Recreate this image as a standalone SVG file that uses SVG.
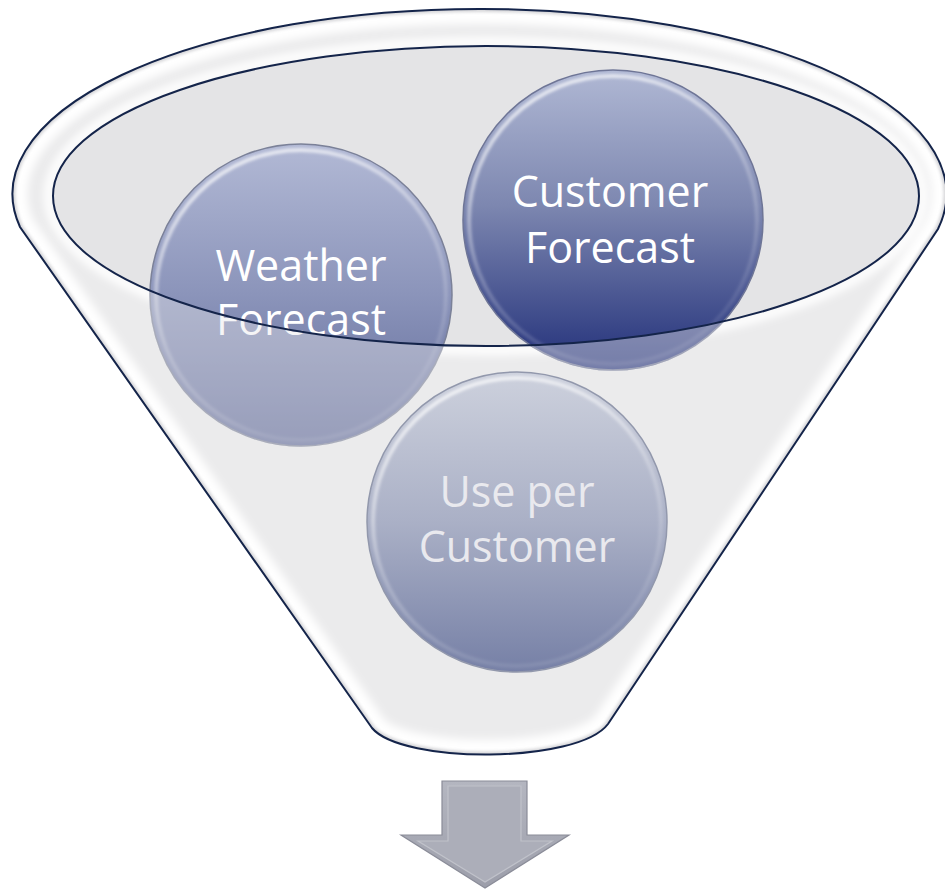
<svg xmlns="http://www.w3.org/2000/svg" width="945" height="893" viewBox="0 0 945 893">
<style>
.lbl{font-family:"Open Sans","Noto Sans","Liberation Sans",sans-serif;font-size:43px;text-anchor:middle;}
.outline{fill:none;stroke:#14244a;stroke-width:2;}
</style>
<defs>
  <path id="funnelShape" d="M 20 227 A 467 185 0 1 1 938 229 L 608 724 C 578 764 402 764 372 728 Z"/>
  <clipPath id="funnelClip"><use href="#funnelShape"/></clipPath>
  <clipPath id="outsideInner"><path clip-rule="evenodd" d="M0 0 H945 V893 H0 Z M 53 196 A 433 150 0 1 0 919 196 A 433 150 0 1 0 53 196 Z"/></clipPath>
  <filter id="blur4" x="-10%" y="-10%" width="120%" height="120%"><feGaussianBlur stdDeviation="4"/></filter>
  <filter id="blur2" x="-10%" y="-10%" width="120%" height="120%"><feGaussianBlur stdDeviation="1.5"/></filter>
  <linearGradient id="gWeather" x1="0" y1="0" x2="0" y2="1">
    <stop offset="0" stop-color="#b2b9d5"/><stop offset="0.5" stop-color="#8b94ba"/><stop offset="1" stop-color="#5e6898"/>
  </linearGradient>
  <linearGradient id="gCust" x1="0" y1="0" x2="0" y2="1">
    <stop offset="0" stop-color="#b0b8d4"/><stop offset="0.45" stop-color="#7d87b0"/><stop offset="1" stop-color="#22307a"/>
  </linearGradient>
  <linearGradient id="gUse" x1="0" y1="0" x2="0" y2="1">
    <stop offset="0" stop-color="#cdd1dd"/><stop offset="0.5" stop-color="#aab0c6"/><stop offset="1" stop-color="#7680a6"/>
  </linearGradient>
  <linearGradient id="gRing" x1="0" y1="0" x2="0.4" y2="1">
    <stop offset="0" stop-color="#ffffff" stop-opacity="0.85"/><stop offset="0.6" stop-color="#ffffff" stop-opacity="0.25"/><stop offset="1" stop-color="#ffffff" stop-opacity="0.1"/>
  </linearGradient>
  <linearGradient id="gArrow" x1="0" y1="0" x2="0" y2="1">
    <stop offset="0" stop-color="#b4b6c0"/><stop offset="1" stop-color="#9c9eaa"/>
  </linearGradient>
</defs>
<rect width="945" height="893" fill="#ffffff"/>

<g id="funnel">
  <use href="#funnelShape" fill="#ebebec"/>
  <g clip-path="url(#funnelClip)">
    <use href="#funnelShape" fill="none" stroke="#ffffff" stroke-width="30" filter="url(#blur4)"/>
    <use href="#funnelShape" fill="none" stroke="#c4c4c8" stroke-width="6" opacity="0.7" filter="url(#blur2)"/>
    <ellipse cx="486" cy="196" rx="437" ry="154" fill="none" stroke="#ffffff" stroke-width="10" filter="url(#blur4)"/>
  </g>
  <ellipse cx="486" cy="196" rx="433" ry="150" fill="#e4e4e6"/>
  <use href="#funnelShape" class="outline"/>
</g>

<g id="node-weather">
  <circle cx="301" cy="295" r="151" fill="url(#gWeather)" stroke="#7b8198" stroke-width="1.5"/>
  <circle cx="301" cy="295" r="145" fill="none" stroke="url(#gRing)" stroke-width="4" filter="url(#blur2)"/>
  <text class="lbl" x="301" y="281" fill="#ffffff">Weather</text>
  <text class="lbl" x="301" y="335" fill="#ffffff">Forecast</text>
  <circle cx="301" cy="295" r="152" fill="#e6e6ea" opacity="0.42" clip-path="url(#outsideInner)"/>
</g>

<g id="node-customer-forecast">
  <circle cx="613" cy="220" r="150" fill="url(#gCust)" stroke="#6e7596" stroke-width="1.5"/>
  <circle cx="613" cy="220" r="144" fill="none" stroke="url(#gRing)" stroke-width="4" filter="url(#blur2)"/>
  <text class="lbl" x="610" y="207" fill="#ffffff">Customer</text>
  <text class="lbl" x="610" y="263" fill="#ffffff">Forecast</text>
  <circle cx="613" cy="220" r="151" fill="#e6e6ea" opacity="0.42" clip-path="url(#outsideInner)"/>
</g>

<g id="funnel-rim-line">
  <ellipse cx="486" cy="196" rx="433" ry="150" class="outline"/>
</g>

<g id="node-use-per-customer">
  <circle cx="517" cy="522" r="150" fill="url(#gUse)" stroke="#9298ac" stroke-width="1.5"/>
  <circle cx="517" cy="522" r="144" fill="none" stroke="url(#gRing)" stroke-width="4" filter="url(#blur2)"/>
  <text class="lbl" x="517" y="507" fill="#e9e9ee">Use per</text>
  <text class="lbl" x="517" y="562" fill="#e9e9ee">Customer</text>
</g>

<g id="connectors"></g>

<g id="arrow-out">
  <path d="M 442 781 L 527 781 L 527 835 L 569 835 L 485 888 L 401 835 L 442 835 Z" fill="url(#gArrow)" stroke="#8a8c98" stroke-width="1.2"/>
  <path d="M 448 786 L 521 786 L 521 841 L 552 841 L 485 882 L 418 841 L 448 841 Z" fill="#acaeb9" stroke="#c0c2ca" stroke-width="1.2"/>
</g>
</svg>
